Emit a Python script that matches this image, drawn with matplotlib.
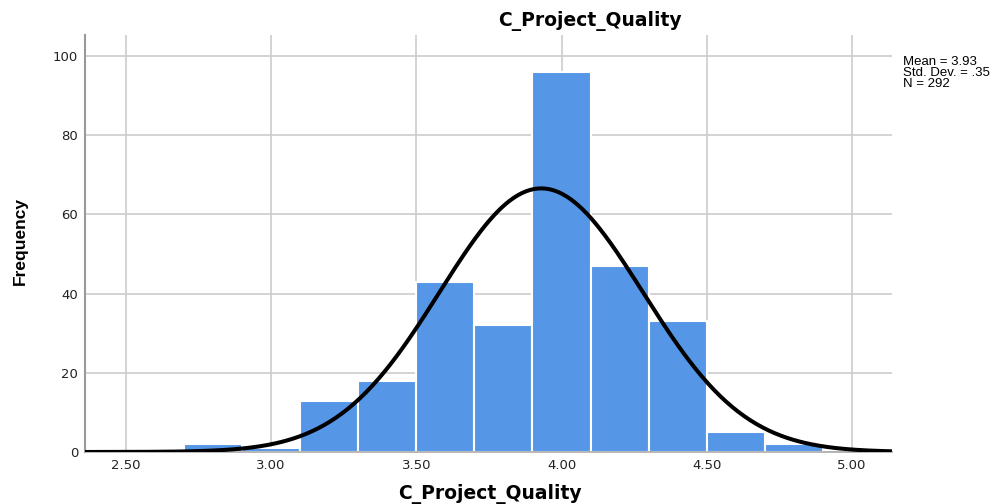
import numpy as np
import matplotlib
matplotlib.use("Agg")
import matplotlib.pyplot as plt

plt.rcParams['font.family'] = ['Liberation Sans', 'DejaVu Sans']

bin_edges = [2.7, 2.9, 3.1, 3.3, 3.5, 3.7, 3.9, 4.1, 4.3, 4.5, 4.7, 4.9]
counts = [2, 1, 13, 18, 43, 32, 96, 47, 33, 5, 2]
mean, sd, n = 3.93, 0.35, 292
xticks = [2.5, 3.0, 3.5, 4.0, 4.5, 5.0]
xticklabels = ["2.50", "3.00", "3.50", "4.00", "4.50", "5.00"]
yticks = [0, 20, 40, 60, 80, 100]

fig = plt.figure(figsize=(10.04, 5.04), dpi=100)
ax = fig.add_axes([0.0847, 0.1032, 0.8037, 0.8274])

lefts = bin_edges[:-1]
widths = np.diff(bin_edges)
ax.bar(lefts, counts, width=widths, align='edge', color='#5596e6',
       edgecolor='white', linewidth=1.5, zorder=2)

xmin, xmax = 2.359, 5.138
xs = np.linspace(xmin, xmax, 400)
bw = 0.2
ys = n * bw / (sd * np.sqrt(2 * np.pi)) * np.exp(-0.5 * ((xs - mean) / sd) ** 2)
ax.plot(xs, ys, color='black', linewidth=2.9, zorder=3, solid_capstyle='butt')

ax.set_xlim(xmin, xmax)
ax.set_ylim(0, 105.3)
ax.set_xticks(xticks)
ax.set_xticklabels(xticklabels)
ax.set_yticks(yticks)
ax.grid(True, color='#cccccc', linewidth=1.2, zorder=0)
ax.set_axisbelow(True)
ax.tick_params(length=0, labelsize=9.5, colors='#222222')
ax.tick_params(axis='x', pad=5)
ax.tick_params(axis='y', pad=5)
for lab in ax.get_xticklabels() + ax.get_yticklabels():
    lab.set_family('DejaVu Sans')
for s in ['top', 'right']:
    ax.spines[s].set_visible(False)
ax.spines['left'].set_color('#999999')
ax.spines['left'].set_linewidth(1.5)
ax.spines['bottom'].set_color('#aaaaaa')
ax.spines['bottom'].set_linewidth(1.2)

ax.set_ylabel('Frequency', fontsize=12.5, fontweight='bold', va='center')
ax.yaxis.set_label_coords(-0.0805, 0.506)
ax.set_xlabel('C_Project_Quality', fontsize=13.5, fontweight='bold',
              family='DejaVu Sans', va='center')
ax.xaxis.set_label_coords(0.502, -0.1007)
fig.text(0.588, 0.958, 'C_Project_Quality', fontsize=13.5, fontweight='bold',
         family='DejaVu Sans', ha='center', va='center')
fig.text(0.899, 0.889, f'Mean = {mean:.2f}\nStd. Dev. = .35\nN = {n}',
         fontsize=9.5, va='top', ha='left', linespacing=0.9)

fig.savefig('out.png', dpi=100)
